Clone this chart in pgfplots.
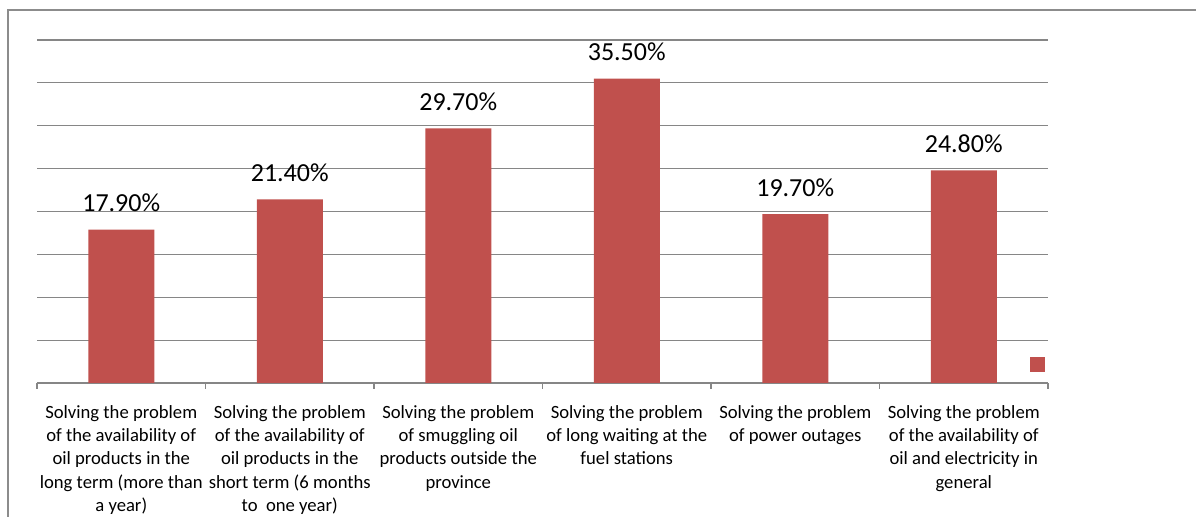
\documentclass[border=0pt]{standalone}
\usepackage{pgfplots}
\pgfplotsset{compat=1.18}
\usepackage{fontspec}
\setmainfont{Carlito}

\definecolor{barred}{RGB}{192,80,77}
\definecolor{gridgray}{RGB}{134,134,134}
\definecolor{framegray}{RGB}{140,140,140}

\begin{document}
\begin{tikzpicture}
% page extent: 1196 x 517 px at 0.75 pt per px
\path[use as bounding box] (0,0) rectangle (897pt,387.75pt);
% chart frame (top and left edges)
\draw[framegray, line width=1.3pt] (6pt,0) -- (6pt,380.25pt) -- (897pt,380.25pt);

\begin{axis}[
  at={(27.75pt,100.5pt)}, anchor=south west,
  scale only axis,
  width=758.25pt, height=257.25pt,
  ybar, bar width=49.5pt,
  xmin=-0.5, xmax=5.5,
  ymin=0, ymax=40,
  ytick={0,5,...,40}, yticklabels={},
  ymajorgrids,
  grid style={gridgray, line width=0.9pt},
  major y tick style={draw=none},
  axis line style={draw=none},
  /pgf/number format/assume math mode=true,
  % category boundaries carry the ticks, names sit between them
  xtick={-0.5,0.5,1.5,2.5,3.5,4.5,5.5},
  x tick label as interval,
  xtick pos=lower, tick align=outside,
  major x tick style={gridgray, line width=0.9pt},
  major tick length=4.5pt,
  xticklabels={
    {Solving the problem\\of the availability of\\oil products in the\\long term (more than\\a year)},
    {Solving the problem\\of the availability of\\oil products in the\\short term (6 months\\to\ \ one year)},
    {Solving the problem\\of smuggling oil\\products outside the\\province},
    {Solving the problem\\of long waiting at the\\fuel stations},
    {Solving the problem\\of power outages},
    {Solving the problem\\of the availability of\\oil and electricity in\\general}},
  xticklabel style={align=center, anchor=north,
    font=\fontsize{14}{17.6}\selectfont, text=black, yshift=-8.5pt},
  nodes near coords={\pgfmathprintnumber[fixed,precision=2,fixed zerofill]{\pgfplotspointmeta}\%},
  every node near coord/.append style={font=\fontsize{19.5}{22}\selectfont,
    text=black, anchor=south, inner sep=0pt, yshift=13pt},
  clip=false,
]
\addplot[fill=barred, draw=none, bar shift=0pt] coordinates {
  (0,17.9) (1,21.4) (2,29.7) (3,35.5) (4,19.7) (5,24.8)};
% legend key of the single series (its entry has no text)
\fill[barred] (rel axis cs:0.982,0.032) rectangle (rel axis cs:0.997,0.076);
\end{axis}
\end{tikzpicture}
\end{document}
